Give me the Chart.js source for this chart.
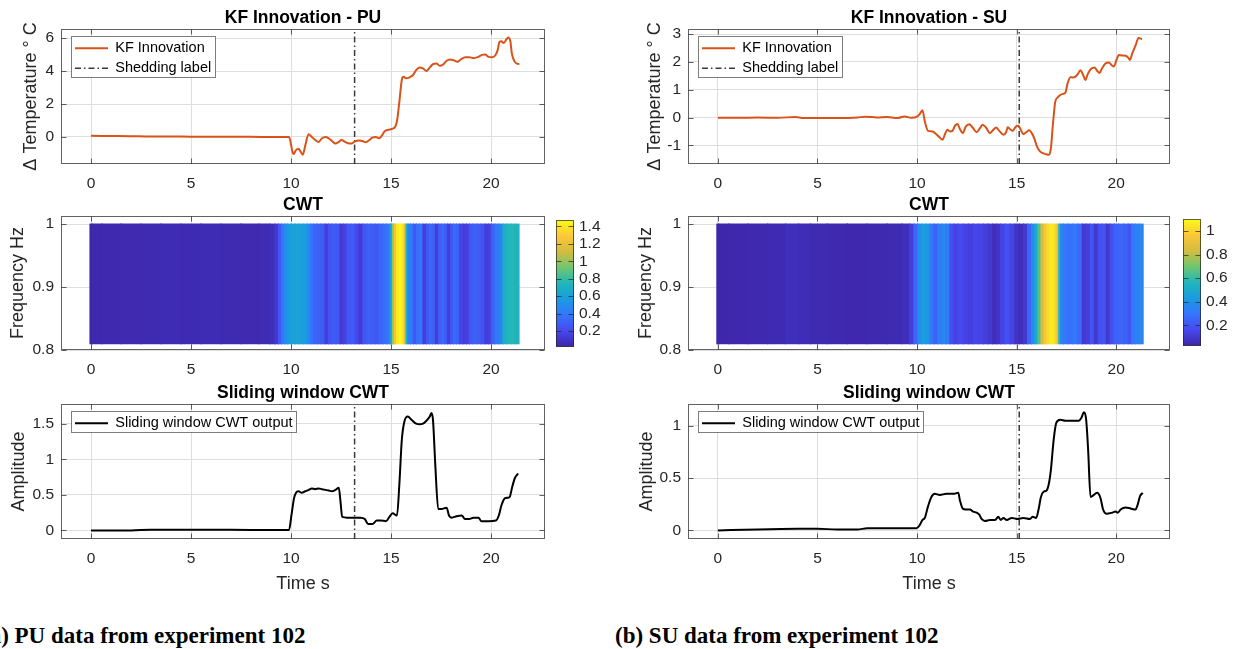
<!DOCTYPE html>
<html>
<head>
<meta charset="utf-8">
<title>KF innovation and CWT - experiment 102</title>
<script src="https://cdn.jsdelivr.net/npm/chart.js@4.4.1/dist/chart.umd.min.js"></script>
<style>
  html, body { margin: 0; padding: 0; background: #fff; }
  body { position: relative; width: 1238px; height: 649px; overflow: hidden; }
  canvas { position: absolute; }
  .caption { position: absolute; top: 624px; font: bold 23px/23px 'Liberation Serif', 'Times New Roman', serif; color: #000; white-space: nowrap; }
</style>
</head>
<body>
<div class="caption" style="left:-18px">(a) PU data from experiment 102</div>
<div class="caption" style="left:615px">(b) SU data from experiment 102</div>
<script>
// ---------- values ----------
const timeTicks = [0, 5, 10, 15, 20];
const timeRange = [-1.5, 22.7];

// KF innovation, PU
const puKfTime = [0,1,2,3,4,5,6,7,8,9,9.9,10.12,10.25,10.37,10.49,10.59,10.71,10.88,11.04,11.21,11.38,11.55,11.72,11.89,12.05,12.22,12.39,12.53,12.68,12.85,13.02,13.18,13.4,13.57,13.74,13.9,14.07,14.24,14.41,14.53,14.7,14.87,15.03,15.2,15.3,15.42,15.54,15.62,15.76,15.93,16.1,16.26,16.43,16.6,16.77,16.94,17.1,17.27,17.44,17.61,17.78,17.95,18.12,18.32,18.49,18.71,18.91,19.12,19.33,19.55,19.71,19.88,20.05,20.22,20.34,20.42,20.52,20.64,20.76,20.86,20.97,21.04,21.18,21.36,21.42];
const puKfValue = [0.07,0.06,0.05,0.03,0.03,0.02,0.02,0.01,0.01,0,0,-1.04,-0.8,-0.72,-0.9,-1.08,-0.54,0.16,0,-0.18,-0.3,-0.08,0,-0.08,-0.24,-0.4,-0.3,-0.18,-0.28,-0.38,-0.4,-0.28,-0.22,-0.24,-0.32,-0.2,-0.04,0,-0.08,0.06,0.36,0.44,0.48,0.6,0.96,2.16,3.46,3.66,3.56,3.62,3.76,4.06,4.22,4.16,4.0,4.22,4.42,4.46,4.32,4.4,4.62,4.7,4.66,4.56,4.7,4.84,4.84,4.78,4.84,4.98,5.0,4.86,4.84,4.96,5.3,5.76,5.8,5.7,5.9,6.04,5.8,5.08,4.57,4.43,4.43];

// KF innovation, SU
const suKfTime = [0,1,2,3,3.9,4.3,5,6,7,7.4,8,8.5,9,9.38,9.71,10.0,10.13,10.27,10.39,10.55,10.77,10.97,11.14,11.28,11.39,11.53,11.65,11.78,11.9,12.03,12.15,12.29,12.45,12.62,12.79,12.99,13.16,13.29,13.46,13.66,13.83,13.97,14.13,14.34,14.47,14.55,14.67,14.8,14.97,15.09,15.21,15.34,15.48,15.63,15.76,15.88,16.02,16.15,16.32,16.49,16.62,16.72,16.82,16.94,17.06,17.19,17.33,17.45,17.56,17.7,17.83,17.95,18.07,18.2,18.34,18.45,18.57,18.74,18.91,19.04,19.16,19.29,19.46,19.63,19.76,19.88,20.0,20.13,20.3,20.47,20.59,20.69,20.81,20.98,21.12,21.3];
const suKfValue = [-0.01,-0.01,0,-0.01,0.02,-0.02,-0.02,-0.02,0,0.03,0,0.02,-0.02,0.04,-0.01,0.03,0.12,0.26,-0.14,-0.48,-0.5,-0.6,-0.72,-0.8,-0.62,-0.44,-0.5,-0.48,-0.3,-0.23,-0.41,-0.56,-0.32,-0.24,-0.36,-0.53,-0.38,-0.26,-0.36,-0.56,-0.44,-0.36,-0.48,-0.62,-0.53,-0.35,-0.42,-0.48,-0.32,-0.3,-0.44,-0.6,-0.53,-0.46,-0.56,-0.74,-1.04,-1.2,-1.28,-1.32,-1.34,-1.1,-0.26,0.57,0.72,0.81,0.85,0.9,1.23,1.45,1.44,1.47,1.56,1.7,1.53,1.35,1.56,1.75,1.8,1.68,1.6,1.77,1.94,1.98,1.89,1.83,2.04,2.25,2.23,2.22,2.16,2.07,2.31,2.61,2.86,2.82];

// shedding labels (s)
const puShedding = 13.18;
const suShedding = 15.13;

// CWT magnitude along time (one cell per sample), frequency band in Hz
const cwtBand = [0.81, 1.0];
const puCwtTime = [0,0.1,1,2,3,4,5,6,7,8,8.8,9.1,9.3,9.45,9.6,9.75,9.9,10.1,10.3,10.5,10.7,10.9,11.05,11.2,11.4,11.6,11.8,11.95,12.15,12.35,12.55,12.7,12.9,13.1,13.3,13.5,13.7,13.9,14.1,14.3,14.5,14.7,14.9,15.02,15.12,15.22,15.35,15.5,15.62,15.72,15.8,15.9,16.05,16.2,16.35,16.5,16.7,16.85,17.0,17.15,17.3,17.45,17.6,17.75,17.9,18.05,18.2,18.35,18.5,18.7,18.85,19.0,19.2,19.4,19.6,19.8,19.95,20.1,20.3,20.5,20.7,20.9,21.1,21.3];
const puCwtValue = [0.03,0.03,0.035,0.04,0.045,0.05,0.045,0.05,0.045,0.04,0.05,0.07,0.12,0.25,0.4,0.5,0.56,0.6,0.62,0.6,0.58,0.5,0.38,0.32,0.3,0.28,0.15,0.24,0.28,0.26,0.13,0.16,0.26,0.28,0.2,0.13,0.26,0.3,0.28,0.26,0.32,0.36,0.4,0.6,1.0,1.25,1.42,1.46,1.38,1.15,0.7,0.45,0.4,0.26,0.36,0.38,0.15,0.26,0.34,0.3,0.14,0.28,0.34,0.28,0.14,0.26,0.34,0.32,0.18,0.14,0.16,0.26,0.3,0.28,0.24,0.14,0.16,0.3,0.4,0.45,0.7,0.75,0.76,0.72];
const suCwtTime = [0,0.1,1,2,3,3.8,4.3,5,6,7,8,9,9.5,9.75,9.95,10.15,10.35,10.55,10.75,10.95,11.15,11.35,11.55,11.75,11.95,12.2,12.45,12.7,12.95,13.2,13.45,13.7,13.9,14.1,14.3,14.55,14.8,15.0,15.25,15.45,15.65,15.85,16.0,16.15,16.3,16.45,16.6,16.75,16.9,17.05,17.15,17.25,17.45,17.7,17.95,18.2,18.4,18.6,18.8,19.0,19.2,19.4,19.6,19.8,20.0,20.25,20.5,20.7,20.85,21.05,21.25];
const suCwtValue = [0.03,0.03,0.035,0.04,0.045,0.06,0.055,0.045,0.04,0.035,0.04,0.045,0.06,0.12,0.25,0.38,0.45,0.42,0.3,0.24,0.32,0.36,0.32,0.18,0.14,0.16,0.14,0.12,0.15,0.14,0.12,0.1,0.06,0.08,0.14,0.18,0.14,0.08,0.06,0.1,0.25,0.38,0.5,0.65,0.85,0.95,1.02,1.06,1.04,0.95,0.6,0.35,0.3,0.28,0.3,0.26,0.1,0.12,0.2,0.1,0.18,0.2,0.1,0.18,0.24,0.25,0.24,0.2,0.3,0.34,0.35];
const puColorRange = [0.02, 1.47];
const suColorRange = [0.026, 1.1];
const puColorTicks = [0.2, 0.4, 0.6, 0.8, 1, 1.2, 1.4];
const suColorTicks = [0.2, 0.4, 0.6, 0.8, 1];

// sliding window CWT output
const puSwTime = [0,2,3,5,7,9,9.9,10.03,10.15,10.25,10.37,10.54,10.71,10.88,11.04,11.21,11.38,11.55,11.72,11.89,12.05,12.22,12.39,12.47,12.56,12.81,13.15,13.48,13.69,13.86,14.07,14.29,14.49,14.75,14.92,15.08,15.3,15.42,15.54,15.67,15.84,16.04,16.26,16.43,16.6,16.77,16.94,17.02,17.1,17.22,17.36,17.52,17.78,17.9,18.03,18.28,18.54,18.7,18.91,19.12,19.38,19.51,19.88,20.25,20.39,20.52,20.69,20.86,20.95,21.05,21.2,21.36];
const puSwValue = [0,0,0.01,0.01,0.01,0.005,0.005,0.23,0.45,0.53,0.55,0.53,0.55,0.57,0.59,0.58,0.59,0.58,0.57,0.56,0.55,0.57,0.6,0.42,0.19,0.18,0.18,0.18,0.16,0.09,0.09,0.14,0.14,0.13,0.19,0.24,0.21,0.66,1.27,1.53,1.6,1.55,1.5,1.49,1.5,1.54,1.6,1.65,1.55,0.89,0.3,0.3,0.32,0.21,0.18,0.2,0.21,0.16,0.16,0.18,0.18,0.13,0.13,0.14,0.21,0.35,0.45,0.46,0.48,0.6,0.74,0.8];
const suSwTime = [0,2,4,5,6,7,7.5,8.12,9.13,9.97,10.13,10.27,10.39,10.55,10.72,10.89,11.14,11.48,11.82,12.07,12.15,12.29,12.45,12.66,12.82,12.99,13.13,13.24,13.41,13.66,13.92,14.08,14.2,14.34,14.5,14.76,15.01,15.34,15.67,15.81,15.98,16.1,16.22,16.35,16.49,16.61,16.72,16.86,16.99,17.19,17.45,17.78,18.12,18.26,18.37,18.49,18.59,18.71,18.88,19.04,19.21,19.34,19.51,19.8,19.97,20.08,20.22,20.47,20.72,20.97,21.05,21.2,21.33];
const suSwValue = [0,0.01,0.015,0.015,0.01,0.01,0.02,0.02,0.02,0.02,0.05,0.1,0.12,0.23,0.32,0.35,0.34,0.35,0.35,0.36,0.29,0.21,0.2,0.2,0.18,0.17,0.15,0.11,0.09,0.1,0.1,0.13,0.1,0.12,0.1,0.12,0.11,0.12,0.11,0.13,0.12,0.2,0.32,0.37,0.38,0.44,0.58,0.87,1.03,1.06,1.05,1.05,1.05,1.08,1.13,1.06,0.77,0.32,0.34,0.36,0.31,0.2,0.16,0.17,0.18,0.17,0.2,0.22,0.21,0.2,0.23,0.33,0.36];

// axis limits and ticks
const puKfRange = [-1.64, 6.55], puKfTicks = [0, 2, 4, 6];
const suKfRange = [-1.67, 3.18], suKfTicks = [-1, 0, 1, 2, 3];
const cwtRange = [0.8, 1.013], cwtTicks = [0.8, 0.9, 1];
const puSwRange = [-0.12, 1.776], puSwTicks = [0, 0.5, 1, 1.5];
const suSwRange = [-0.082, 1.21], suSwTicks = [0, 0.5, 1];

// ---------- style ----------
Chart.defaults.font.family = "'Liberation Sans', Arial, Helvetica, sans-serif";
Chart.defaults.color = '#262626';

const INK = '#262626';
const GRID = '#dedede';
const FRAME = 'rgba(38,38,38,0.72)';
const KF_COLOR = '#d95319';
const SHED_COLOR = '#3a3a3a';
const SHED_DASH = [6, 3, 1.5, 3];
const TITLE_LH = 21;     // 17.5px bold * 1.2
const TITLE_GAP = 0;
const YLAB_LH = 21.6;    // 18px * 1.2

// parula-like colormap
const PARULA = [[62,38,168],[71,72,239],[53,117,252],[26,155,225],[32,182,186],[111,198,112],[211,188,63],[253,198,57],[249,251,21]];
function parula(t) {
  t = Math.min(1, Math.max(0, t));
  const p = t * (PARULA.length - 1);
  const i = Math.min(PARULA.length - 2, Math.floor(p));
  const f = p - i;
  const c = PARULA[i].map((v, k) => Math.round(v + (PARULA[i + 1][k] - v) * f));
  return `rgb(${c[0]},${c[1]},${c[2]})`;
}

const fmt = v => String(v);
const useTicks = values => scale => { scale.ticks = values.map(v => ({value: v})); };
const pts = (t, v) => t.map((x, i) => ({x, y: v[i]}));

function addCanvas(left, top, w, h) {
  const c = document.createElement('canvas');
  c.width = w; c.height = h;
  c.style.left = left + 'px'; c.style.top = top + 'px';
  c.style.width = w + 'px'; c.style.height = h + 'px';
  document.body.appendChild(c);
  return c;
}

// full box round the axes plus inward tick marks, like MATLAB
const frame = {
  id: 'frame',
  afterDatasetsDraw(chart) {
    const {ctx, chartArea: a} = chart;
    const L = Math.round(a.left) + 0.5, R = Math.round(a.right) - 0.5;
    const T = Math.round(a.top) + 0.5, B = Math.round(a.bottom) - 0.5;
    ctx.save();
    ctx.strokeStyle = FRAME;
    ctx.lineWidth = 1;
    ctx.strokeRect(L, T, R - L, B - T);
    Object.values(chart.scales).forEach(s => {
      if (!s.options.display) return;
      ctx.beginPath();
      s.ticks.forEach(t => {
        const p = Math.round(s.getPixelForValue(t.value)) + 0.5;
        if (s.isHorizontal()) {
          ctx.moveTo(p, B); ctx.lineTo(p, B - 5);
          ctx.moveTo(p, T); ctx.lineTo(p, T + 5);
        } else {
          ctx.moveTo(L, p); ctx.lineTo(L + 5, p);
          ctx.moveTo(R, p); ctx.lineTo(R - 5, p);
        }
      });
      ctx.stroke();
    });
    ctx.restore();
  }
};

// legend drawn inside the axes, top left, in a white framed box
const legendInside = {
  id: 'legendInside',
  afterLayout(chart) {
    const lg = chart.legend, a = chart.chartArea;
    if (!lg || !lg.options.display) return;
    const w = lg.width, h = lg.height;
    lg.left = a.left + 8.5;
    lg.top = a.top + 6.5;
    lg.right = lg.left + w;
    lg.bottom = lg.top + h;
  },
  beforeDatasetsDraw(chart) {
    const lg = chart.legend;
    if (!lg || !lg.options.display || !lg.columnSizes || !lg.columnSizes.length) return;
    const pad = lg.options.labels.padding;
    const col = lg.columnSizes[0];
    const x0 = Math.round(lg.left + pad - 3.6) + 0.5;
    const y0 = Math.round(lg.top + pad - 5) + 0.5;
    const x1 = Math.round(lg.left + pad + col.width + 3.5) + 0.5;
    const y1 = Math.round(lg.top + col.height + 1.8) + 0.5;
    const ctx = chart.ctx;
    ctx.save();
    ctx.fillStyle = '#fff';
    ctx.fillRect(x0, y0, x1 - x0, y1 - y0);
    ctx.strokeStyle = 'rgba(38,38,38,0.6)';
    ctx.lineWidth = 1;
    ctx.strokeRect(x0, y0, x1 - x0, y1 - y0);
    ctx.restore();
    lg.draw();
  }
};

// legend entries take line colour, width and dash from the dataset itself
function legendLabels(chart) {
  const base = Chart.defaults.plugins.legend.labels.generateLabels(chart);
  return base.map(item => {
    const ds = chart.data.datasets[item.datasetIndex];
    item.strokeStyle = ds.borderColor;
    item.lineWidth = ds.borderWidth;
    item.lineDash = ds.borderDash || [];
    return item;
  });
}

function subplot(o) {
  const left = Math.round(o.labelX - YLAB_LH / 2);
  const top = o.box.t - TITLE_LH - TITLE_GAP;
  const xh = o.xTitle ? 56 : 36;
  const padR = 14;
  const w = o.box.r - left + padR;
  const h = o.box.b - top + xh;
  const yw = o.box.l - left;
  const canvas = addCanvas(left, top, w, h);
  return new Chart(canvas, {
    type: o.type,
    data: {datasets: o.datasets},
    options: {
      responsive: false,
      animation: false,
      devicePixelRatio: 1,
      events: [],
      layout: {padding: {left: 0, right: padR, top: 0, bottom: 0}},
      plugins: {
        title: {
          display: true, text: o.title, fullSize: false, color: '#000',
          font: {size: 17.5, weight: 'bold', lineHeight: 1.2},
          padding: {top: 0, bottom: TITLE_GAP}
        },
        legend: o.legend ? {
          display: true,
          position: 'chartArea',
          align: 'start',
          labels: {
            usePointStyle: true, pointStyle: 'line', pointStyleWidth: 33,
            padding: 5.5, color: '#000', font: {size: 14.5},
            generateLabels: legendLabels,
            filter: item => !!item.text
          }
        } : {display: false},
        tooltip: {enabled: false}
      },
      scales: {
        x: {
          type: 'linear', min: timeRange[0], max: timeRange[1], offset: false,
          afterBuildTicks: useTicks(timeTicks),
          afterFit: s => { s.height = xh; },
          ticks: {padding: 10, color: INK, font: {size: 15.5}, maxRotation: 0, autoSkip: false, callback: fmt},
          grid: {color: GRID, drawTicks: false, offset: false},
          border: {display: false},
          title: o.xTitle
            ? {display: true, text: o.xTitle, color: INK, font: {size: 18, lineHeight: 1.2}, padding: {top: 0, bottom: 0}}
            : {display: false}
        },
        y: {
          type: 'linear', min: o.yRange[0], max: o.yRange[1], beginAtZero: false,
          afterBuildTicks: useTicks(o.yTicks),
          afterFit: s => { s.width = yw; },
          ticks: {padding: 7, color: INK, font: {size: 15.5}, autoSkip: false, callback: fmt},
          grid: {color: GRID, drawTicks: false},
          border: {display: false},
          title: {display: true, text: o.yTitle, color: INK, font: {size: 18, lineHeight: 1.2}, padding: {top: 0, bottom: 0}}
        }
      }
    },
    plugins: [legendInside, frame]
  });
}

function sheddingLine(x, yRange, label) {
  return {
    type: 'line', label, data: [{x, y: yRange[0]}, {x, y: yRange[1]}],
    borderColor: SHED_COLOR, borderWidth: 1.5, borderDash: SHED_DASH,
    pointRadius: 0, fill: false
  };
}

function curve(label, t, v, color) {
  return {
    type: 'line', label, data: pts(t, v),
    borderColor: color, backgroundColor: color, borderWidth: 2,
    pointRadius: 0, fill: false, cubicInterpolationMode: 'monotone'
  };
}

function heatmap(t, v, range) {
  return {
    type: 'bar',
    data: t.map(x => ({x, y: cwtBand})),
    backgroundColor: v.map(val => parula((val - range[0]) / (range[1] - range[0]))),
    borderWidth: 0, barThickness: 'flex', barPercentage: 1, categoryPercentage: 1,
    inflateAmount: 0.6
  };
}

function colorbar(box, range, ticks) {
  const padV = 10, lab = 45;
  const canvas = addCanvas(box.l, box.t - padV, box.r - box.l + lab, box.b - box.t + 2 * padV);
  return new Chart(canvas, {
    type: 'bar',
    data: {
      labels: [''],
      datasets: [{
        data: [range],
        backgroundColor: c => {
          const area = c.chart.chartArea;
          if (!area) return parula(0);
          const g = c.chart.ctx.createLinearGradient(0, area.bottom, 0, area.top);
          PARULA.forEach((rgb, i) => g.addColorStop(i / (PARULA.length - 1), `rgb(${rgb.join(',')})`));
          return g;
        },
        borderWidth: 0, barPercentage: 1, categoryPercentage: 1
      }]
    },
    options: {
      responsive: false, animation: false, devicePixelRatio: 1, events: [],
      layout: {padding: {top: padV, bottom: padV, left: 0, right: 0}},
      plugins: {legend: {display: false}, title: {display: false}, tooltip: {enabled: false}},
      scales: {
        x: {display: false},
        y: {
          position: 'right', min: range[0], max: range[1],
          afterBuildTicks: useTicks(ticks),
          afterFit: s => { s.width = lab; },
          grid: {display: false, drawTicks: false},
          border: {display: false},
          ticks: {padding: 5, color: INK, font: {size: 15.5}, autoSkip: false, callback: fmt}
        }
      }
    },
    plugins: [frame]
  });
}

// ---------- layout (axes boxes in page pixels) ----------
const COL_A = {l: 61, r: 545};
const COL_B = {l: 688, r: 1170};
const ROW_KF = {t: 29, b: 164};
const ROW_CWT = {t: 216, b: 350};
const ROW_SW = {t: 404, b: 539};
const box = (c, r) => ({l: c.l, r: c.r, t: r.t, b: r.b});

// top row: KF innovation
subplot({
  type: 'line', box: box(COL_A, ROW_KF), labelX: 31,
  title: 'KF Innovation - PU', yTitle: 'Δ Temperature ° C',
  yRange: puKfRange, yTicks: puKfTicks, legend: true,
  datasets: [curve('KF Innovation', puKfTime, puKfValue, KF_COLOR), sheddingLine(puShedding, puKfRange, 'Shedding label')]
});
subplot({
  type: 'line', box: box(COL_B, ROW_KF), labelX: 655,
  title: 'KF Innovation - SU', yTitle: 'Δ Temperature ° C',
  yRange: suKfRange, yTicks: suKfTicks, legend: true,
  datasets: [curve('KF Innovation', suKfTime, suKfValue, KF_COLOR), sheddingLine(suShedding, suKfRange, 'Shedding label')]
});

// middle row: CWT scalogram with colour bars
subplot({
  type: 'bar', box: box(COL_A, ROW_CWT), labelX: 18,
  title: 'CWT', yTitle: 'Frequency Hz',
  yRange: cwtRange, yTicks: cwtTicks, legend: false,
  datasets: [heatmap(puCwtTime, puCwtValue, puColorRange)]
});
subplot({
  type: 'bar', box: box(COL_B, ROW_CWT), labelX: 646,
  title: 'CWT', yTitle: 'Frequency Hz',
  yRange: cwtRange, yTicks: cwtTicks, legend: false,
  datasets: [heatmap(suCwtTime, suCwtValue, suColorRange)]
});
colorbar({l: 556, r: 574, t: 216, b: 351}, puColorRange, puColorTicks);
colorbar({l: 1183, r: 1201, t: 215, b: 350}, suColorRange, suColorTicks);

// bottom row: sliding window CWT
subplot({
  type: 'line', box: box(COL_A, ROW_SW), labelX: 18.5,
  title: 'Sliding window CWT', yTitle: 'Amplitude', xTitle: 'Time s',
  yRange: puSwRange, yTicks: puSwTicks, legend: true,
  datasets: [curve('Sliding window CWT output', puSwTime, puSwValue, '#000'), sheddingLine(puShedding, puSwRange)]
});
subplot({
  type: 'line', box: box(COL_B, ROW_SW), labelX: 647,
  title: 'Sliding window CWT', yTitle: 'Amplitude', xTitle: 'Time s',
  yRange: suSwRange, yTicks: suSwTicks, legend: true,
  datasets: [curve('Sliding window CWT output', suSwTime, suSwValue, '#000'), sheddingLine(suShedding, suSwRange)]
});
</script>
</body>
</html>
